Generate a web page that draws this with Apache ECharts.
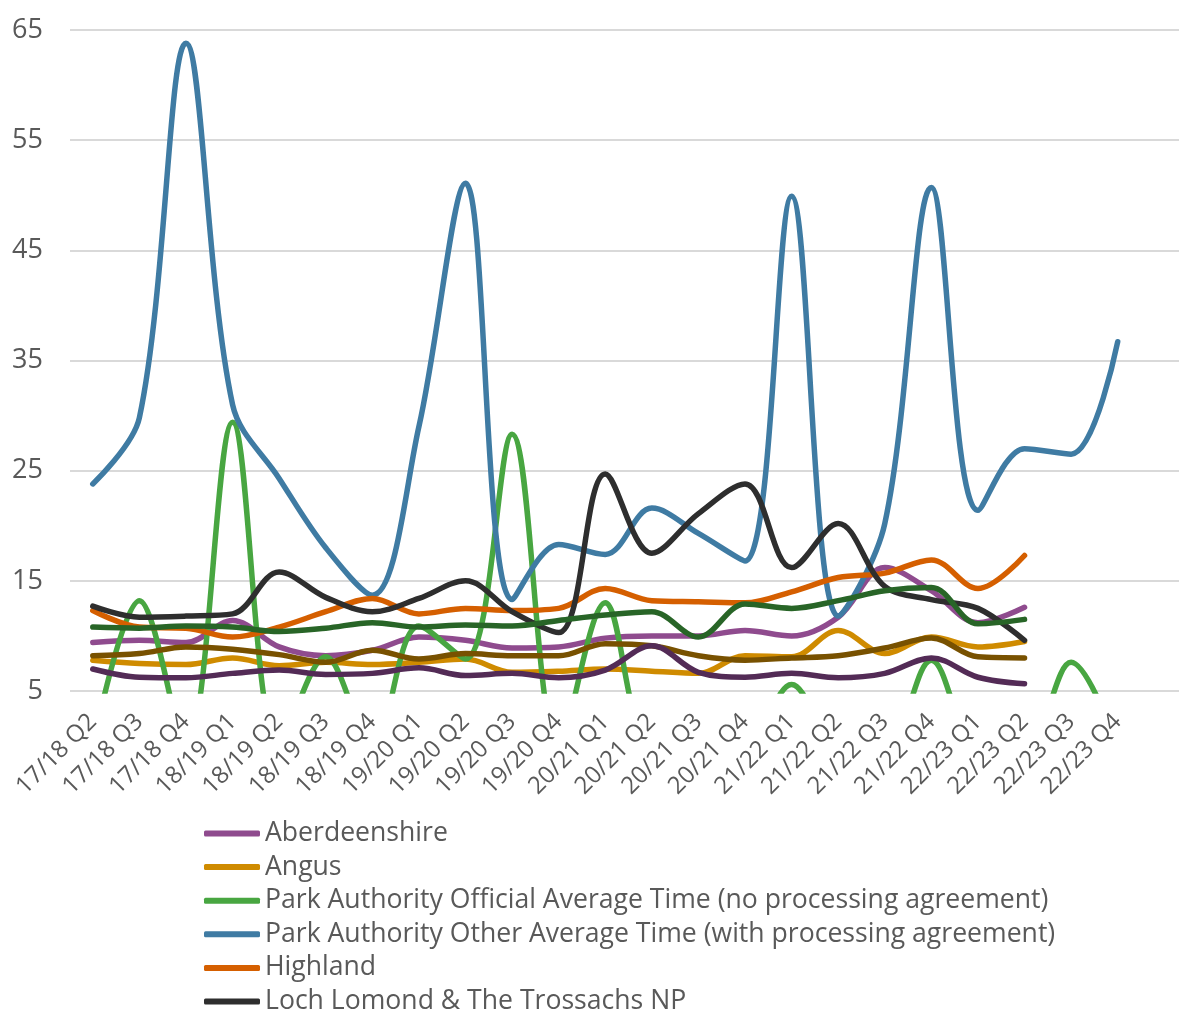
<!DOCTYPE html>
<html>
<head>
<meta charset="utf-8">
<script src="https://cdn.jsdelivr.net/npm/echarts@6/dist/echarts.min.js"></script>
<style>
html,body{margin:0;padding:0;background:#fff;}
#chart{width:1179px;height:1010px;}
</style>
</head>
<body>
<div id="chart"></div>
<script>
const categories = ['17/18 Q2','17/18 Q3','17/18 Q4','18/19 Q1','18/19 Q2','18/19 Q3','18/19 Q4','19/20 Q1','19/20 Q2','19/20 Q3','19/20 Q4','20/21 Q1','20/21 Q2','20/21 Q3','20/21 Q4','21/22 Q1','21/22 Q2','21/22 Q3','21/22 Q4','22/23 Q1','22/23 Q2','22/23 Q3','22/23 Q4'];
const yTicks = [5, 15, 25, 35, 45, 55, 65];

const aberdeenshire = [9.4,9.6,9.4,11.4,9.0,8.2,8.7,9.9,9.6,8.9,9.0,9.8,10.0,10.0,10.5,10.0,11.7,16.2,14.1,11.2,12.6,null,null];
const angus = [7.8,7.5,7.4,8.0,7.3,7.6,7.4,7.6,7.9,6.7,6.8,7.0,6.8,6.6,8.2,8.1,10.5,8.4,9.9,9.0,9.5,null,null];
const parkOfficial = [0,13.2,0,29.4,0,8.1,0,10.9,7.9,28.3,0,13.0,0,0,0,5.6,0,0,7.8,0,0,7.6,0];
const parkOther = [23.8,29.8,63.8,31.0,24.3,18.0,13.7,29.0,51.1,13.3,18.3,17.4,21.6,19.3,16.8,49.9,11.8,20.2,50.7,21.4,27.0,26.5,36.7];
const highland = [12.3,10.8,10.7,9.9,10.8,12.2,13.4,12.0,12.5,12.3,12.5,14.3,13.2,13.1,13.0,14.0,15.3,15.7,16.9,14.3,17.3,null,null];
const lochLomond = [12.7,11.7,11.8,12.0,15.8,13.5,12.2,13.4,15.0,12.2,10.3,24.7,17.5,21.1,23.8,16.2,20.2,14.5,13.3,12.5,9.6,null,null];
const moray = [10.8,10.7,10.9,10.8,10.4,10.7,11.2,10.8,11.0,10.9,11.4,11.9,12.2,9.9,12.9,12.5,13.2,14.1,14.4,11.1,11.5,null,null];
const perthKinross = [8.2,8.4,9.0,8.8,8.3,7.6,8.7,7.9,8.4,8.2,8.2,9.3,9.1,8.2,7.8,8.0,8.2,8.9,9.8,8.1,8.0,null,null];
const scotland = [7.0,6.25,6.2,6.6,6.9,6.5,6.6,7.1,6.4,6.6,6.2,6.9,9.1,6.7,6.25,6.6,6.2,6.6,8.0,6.25,5.65,null,null];

const seriesDefs = [
  ['Aberdeenshire', aberdeenshire, '#8f4b8e'],
  ['Angus', angus, '#cf8b00'],
  ['Park Authority Official Average Time (no processing agreement)', parkOfficial, '#48a641'],
  ['Park Authority Other Average Time (with processing agreement)', parkOther, '#3f7ba3'],
  ['Highland', highland, '#d55f00'],
  ['Loch Lomond & The Trossachs NP', lochLomond, '#2e2e2e'],
  ['Moray', moray, '#286527'],
  ['Perth & Kinross', perthKinross, '#785100'],
  ['Scotland', scotland, '#532b56']
];
const legendNames = seriesDefs.slice(0, 6).map(d => d[0]);

const FONT = 'Open Sans';
const TEXT = '#595959';
const LEGEND_TOP = 815, LEGEND_STEP = 33.6;

const chart = echarts.init(document.getElementById('chart'), null, {renderer: 'canvas'});
chart.setOption({
  animation: false,
  backgroundColor: '#ffffff',
  textStyle: {fontFamily: FONT},
  grid: [
    {left: 70, right: 0, top: 30, height: 661, containLabel: false},
    {left: 69.5, right: 38, top: 30, height: 661, containLabel: false}
  ],
  xAxis: [
    {gridIndex: 0, type: 'value', show: false, min: 0, max: 1},
    {gridIndex: 1, type: 'category', data: categories, boundaryGap: true,
      axisLine: {show: false}, axisTick: {show: false},
      axisLabel: {rotate: 45, interval: 0, margin: 27, color: TEXT, fontSize: 24, fontFamily: FONT}}
  ],
  yAxis: [
    {gridIndex: 0, type: 'value', min: yTicks[0], max: yTicks[yTicks.length - 1], interval: 10,
      axisLine: {show: false}, axisTick: {show: false},
      axisLabel: {margin: 27, color: TEXT, fontSize: 27, fontFamily: FONT},
      splitLine: {lineStyle: {color: '#d9d9d9', width: 2}}},
    {gridIndex: 1, type: 'value', min: yTicks[0], max: yTicks[yTicks.length - 1], interval: 10, show: false,
      splitLine: {show: false}}
  ],
  legend: legendNames.map((n, i) => ({
    orient: 'horizontal', left: 199, top: LEGEND_TOP + i * LEGEND_STEP,
    itemWidth: 56, itemHeight: 6, icon: 'roundRect', data: [n],
    textStyle: {color: TEXT, fontSize: 26.6, fontFamily: FONT}
  })),
  series: seriesDefs.map(d => ({
    name: d[0], type: 'line', data: d[1], xAxisIndex: 1, yAxisIndex: 1,
    smooth: 0.35, symbol: 'none', showSymbol: false, clip: true, connectNulls: false,
    lineStyle: {color: d[2], width: 5.5, cap: 'round', join: 'round'},
    itemStyle: {color: d[2]}
  }))
});
</script>
</body>
</html>
